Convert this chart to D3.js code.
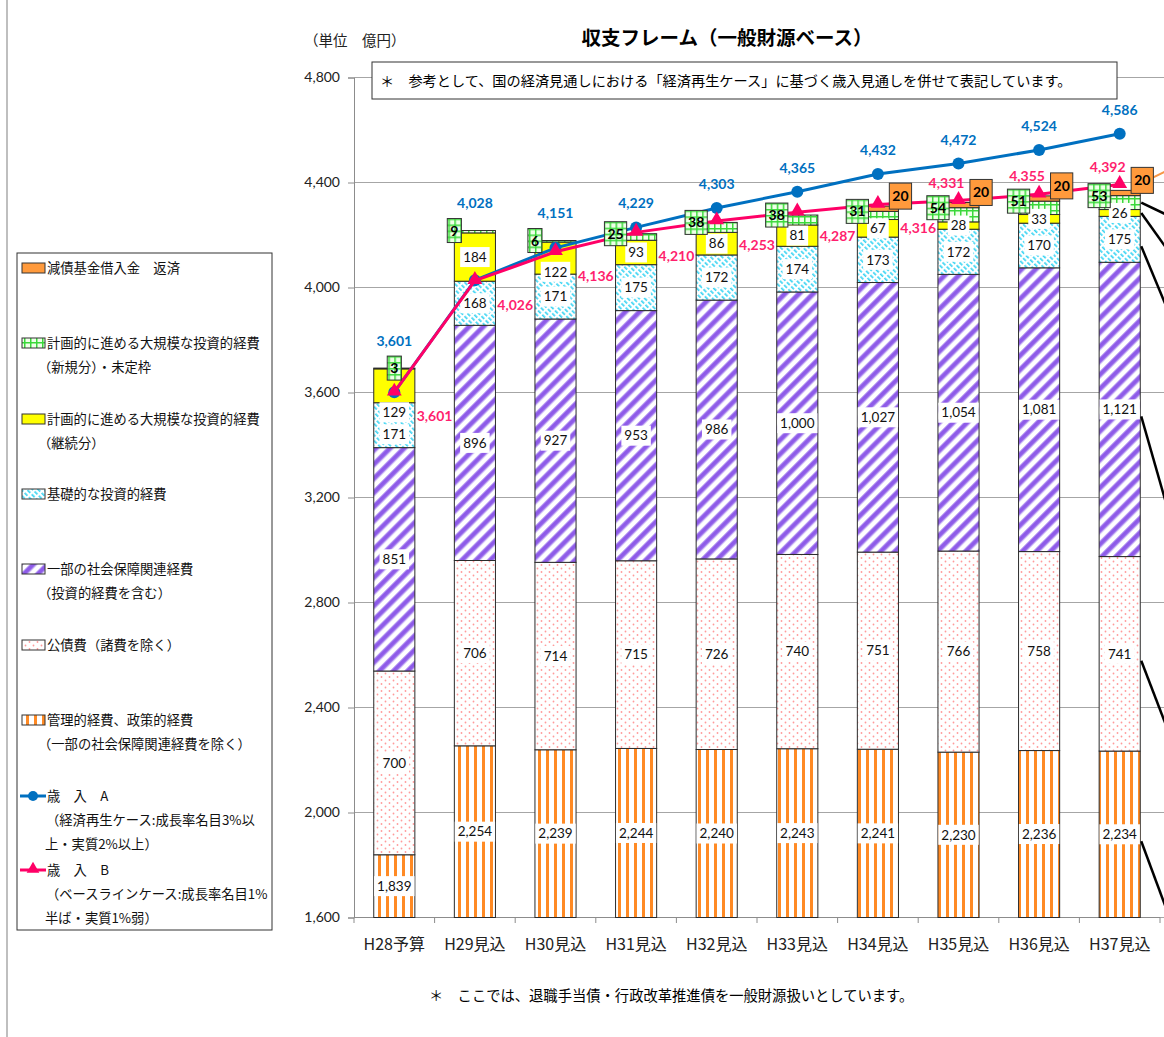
<!DOCTYPE html>
<html><head><meta charset="utf-8">
<script src="https://cdn.jsdelivr.net/npm/d3@7"></script>
<style>body{margin:0;background:#fff;} svg{display:block;}</style>
</head><body>
<svg id="c" width="1164" height="1037"></svg>
<script>
// ---- data ----
const categories = ["H28予算","H29見込","H30見込","H31見込","H32見込","H33見込","H34見込","H35見込","H36見込","H37見込"];
const kanri   = [1839,2254,2239,2244,2240,2243,2241,2230,2236,2234]; // 管理的経費、政策的経費
const kosai   = [700,706,714,715,726,740,751,766,758,741];             // 公債費
const shakai  = [851,896,927,953,986,1000,1027,1054,1081,1121];        // 一部の社会保障関連経費
const kiso    = [171,168,171,175,172,174,173,172,170,175];             // 基礎的な投資的経費
const keizoku = [129,184,122,93,86,81,67,28,33,26];                    // 計画的(継続分)
const shinki  = [3,9,6,25,38,38,31,54,51,53];                          // 計画的(新規分)・未定枠
const gensai  = [0,0,0,0,0,0,20,20,20,20];                             // 減債基金借入金 返済
const revenueA = [3601,4028,4151,4229,4303,4365,4432,4472,4524,4586];
const revenueB = [3601,4026,4136,4210,4253,4287,4316,4331,4355,4392];
const yTicks = [1600,2000,2400,2800,3200,3600,4000,4400,4800];

const seriesKeys = ["kanri","kosai","shakai","kiso","keizoku","shinki","gensai"];
const seriesData = {kanri, kosai, shakai, kiso, keizoku, shinki, gensai};

const svg = d3.select("#c");
const fmt = d3.format(",");
const JP = "'Noto Sans CJK JP','Noto Sans',sans-serif";
const NUM = "Lato,'Liberation Sans',sans-serif";

// ---- patterns ----
const defs = svg.append("defs");
function pat(id, w, h, tr){ const p = defs.append("pattern").attr("id",id).attr("patternUnits","userSpaceOnUse").attr("width",w).attr("height",h); if(tr) p.attr("patternTransform",tr); p.append("rect").attr("width",w).attr("height",h).attr("fill","#fff"); return p; }
let p = pat("pKanri",8,8);
p.append("rect").attr("x",2).attr("width",3).attr("height",8).attr("fill","#FF8A24");
p = pat("pKosai",8,7);
p.append("circle").attr("cx",1.5).attr("cy",1.5).attr("r",0.9).attr("fill","#FF9B9B");
p.append("circle").attr("cx",5.5).attr("cy",5).attr("r",0.9).attr("fill","#FF9B9B");
p = pat("pShakai",10,10,"rotate(45)");
p.append("rect").attr("x",0).attr("width",5.5).attr("height",10).attr("fill","#B293F2");
p.append("rect").attr("x",1).attr("width",3.5).attr("height",10).attr("fill","#8E5BE8");
p = pat("pKiso",4,6,"rotate(-45)");
p.append("rect").attr("x",0).attr("y",0).attr("width",1.7).attr("height",4).attr("fill","#3DD5F3");
p = defs.append("pattern").attr("id","pShinki").attr("patternUnits","userSpaceOnUse").attr("width",6).attr("height",6);
p.append("rect").attr("width",6).attr("height",6).attr("fill","#EFFFE8");
p.append("rect").attr("width",1.5).attr("height",6).attr("fill","#3AD83A");
p.append("rect").attr("width",6).attr("height",1.5).attr("fill","#3AD83A");

const fills = {kanri:"url(#pKanri)", kosai:"url(#pKosai)", shakai:"url(#pShakai)", kiso:"url(#pKiso)", keizoku:"#FFFF00", shinki:"url(#pShinki)", gensai:"#FF9A3C"};

// ---- scales ----
const x = d3.scaleBand().domain(categories).range([354,1160]).paddingInner(0.49).paddingOuter(0.245);
const y = d3.scaleLinear().domain([1600,4800]).range([917.5,77.5]);
const yMin = y.domain()[0];
const yc = v => y(Math.max(v, yMin));
const bw = x.bandwidth();
const cx = c => x(c) + bw/2;

// left page border
svg.append("line").attr("x1",7).attr("x2",7).attr("y1",0).attr("y2",1037).attr("stroke","#aaa").attr("stroke-width",1.5);

// gridlines
svg.append("g").selectAll("line").data(yTicks).join("line")
  .attr("x1",354).attr("x2",1164).attr("y1",d=>y(d)).attr("y2",d=>y(d))
  .attr("stroke","#A6A6A6").attr("stroke-width",1);

// y axis
const ya = svg.append("g").attr("transform","translate(354,0)")
  .call(d3.axisLeft(y).tickValues(yTicks).tickSize(6).tickPadding(8).tickFormat(fmt));
ya.select(".domain").attr("stroke","#8c8c8c");
ya.selectAll(".tick line").attr("stroke","#8c8c8c");
ya.selectAll("text").attr("font-family",NUM).attr("font-size",14).attr("fill","#222");

// x axis
const xa = svg.append("g").attr("transform","translate(0,917.5)")
  .call(d3.axisBottom(x).tickSize(0).tickPadding(21));
xa.select(".domain").remove();
xa.selectAll("text").attr("font-family",JP).attr("font-size",16).attr("fill","#222");
svg.append("line").attr("x1",354).attr("x2",1160).attr("y1",917.5).attr("y2",917.5).attr("stroke","#8c8c8c");
const bounds = categories.map(c => x(c) - (x.step()-bw)/2).concat([x(categories[9]) + bw + (x.step()-bw)/2]);
svg.append("g").selectAll("line").data(bounds).join("line")
  .attr("x1",d=>d).attr("x2",d=>d).attr("y1",917.5).attr("y2",923).attr("stroke","#8c8c8c");

// ---- stacked bars ----
const rows = categories.map((c,i)=>{ const r={cat:c}; seriesKeys.forEach(k=>r[k]=seriesData[k][i]); return r; });
const stacked = d3.stack().keys(seriesKeys)(rows);
const barsG = svg.append("g");
stacked.forEach(layer=>{
  barsG.append("g").selectAll("rect").data(layer.filter(d=>d[1]>d[0])).join("rect")
    .attr("x",d=>x(d.data.cat)).attr("width",bw)
    .attr("y",d=>yc(d[1])).attr("height",d=>yc(d[0])-yc(d[1]))
    .attr("fill",fills[layer.key]).attr("stroke","#2b2b2b").attr("stroke-width",1);
});

// segment value labels (white boxes); pushed down when they would cover a line marker or a label above
const labG = svg.append("g");
const labelLayers = ["keizoku","kiso","shakai","kosai","kanri"];
categories.forEach((c,i)=>{
  let floor = -Infinity;
  const markerY = Math.max(y(revenueA[i]), y(revenueB[i]));
  labelLayers.forEach(key=>{
    const d = stacked.find(l=>l.key===key)[i];
    let ly = (yc(d[0])+yc(d[1]))/2;
    if (Math.abs(ly - markerY) < 16) ly = markerY + 20;
    if (ly < floor + 22) ly = floor + 22;
    floor = ly;
    const g = labG.append("g").attr("transform",`translate(${cx(c)},${ly})`);
    const t = g.append("text").attr("text-anchor","middle").attr("dy","0.35em")
      .attr("font-family",NUM).attr("font-size",13.5).attr("fill","#111").text(fmt(d[1]-d[0]));
    const w = t.node().getComputedTextLength();
    g.insert("rect","text").attr("x",-w/2-3).attr("y",-10).attr("width",w+6).attr("height",20).attr("fill","#fff");
  });
});

// leader lines on the right (callouts leaving the frame)
const slopes = {shinki:0.48, keizoku:1.4, kiso:2.4, shakai:3.5, kosai:2.6, kanri:2.7};
const leadG = svg.append("g");
stacked.filter(l=>slopes[l.key]!==undefined).forEach(l=>{
  const d = l[l.length-1];
  const x0 = x(categories[9]) + bw + 1;
  const y0 = (yc(d[0])+yc(d[1]))/2 + (l.key==="shinki"||l.key==="keizoku"?0:7);
  leadG.append("line").attr("x1",x0).attr("y1",y0).attr("x2",x0+60).attr("y2",y0+60*slopes[l.key])
    .attr("stroke","#000").attr("stroke-width",2.5);
});
// orange reference line leaving the frame at top right
svg.append("line").attr("x1",x(categories[9])+bw+12).attr("y1",y(4418)).attr("x2",x(categories[9])+bw+40).attr("y2",y(4470))
  .attr("stroke","#F79646").attr("stroke-width",2);

// ---- lines ----
const lineA = d3.line().x((d,i)=>cx(categories[i])).y(d=>y(d));
svg.append("path").attr("d",lineA(revenueA)).attr("fill","none").attr("stroke","#0070C0").attr("stroke-width",3);
svg.append("g").selectAll("circle").data(revenueA).join("circle")
  .attr("cx",(d,i)=>cx(categories[i])).attr("cy",d=>y(d)).attr("r",6).attr("fill","#0070C0");
svg.append("path").attr("d",lineA(revenueB)).attr("fill","none").attr("stroke","#FF0066").attr("stroke-width",3);
svg.append("g").selectAll("path").data(revenueB).join("path")
  .attr("d",d3.symbol(d3.symbolTriangle,95))
  .attr("transform",(d,i)=>`translate(${cx(categories[i])},${y(d)-1})`).attr("fill","#FF0066");

// ---- green (新規分) boxes and orange (減債) boxes ----
const boxG = svg.append("g");
const shinkiLayer = stacked.find(l=>l.key==="shinki");
const greenTop = [];
shinkiLayer.forEach((d,i)=>{
  const bx = i===0 ? cx(d.data.cat) : x(d.data.cat);
  const by = y(d[1]);
  const g = boxG.append("g").attr("transform",`translate(${bx},${by})`);
  const t = g.append("text").attr("text-anchor","middle").attr("dy","0.36em")
    .attr("font-family",NUM).attr("font-weight","bold").attr("font-size",14).attr("fill","#000").text(fmt(d[1]-d[0]));
  const w = t.node().getComputedTextLength();
  g.insert("rect","text").attr("x",-w/2-3).attr("y",-12).attr("width",w+6).attr("height",24)
    .attr("fill","url(#pShinki)").attr("stroke","#333").attr("stroke-width",1);
  greenTop.push(by-12);
});
const gensaiLayer = stacked.find(l=>l.key==="gensai");
gensaiLayer.filter(d=>d[1]>d[0]).forEach(d=>{
  const g = boxG.append("g").attr("transform",`translate(${x(d.data.cat)+bw+2},${y(d[1])-10})`);
  const t = g.append("text").attr("text-anchor","middle").attr("dy","0.36em")
    .attr("font-family",NUM).attr("font-weight","bold").attr("font-size",14).attr("fill","#000").text(fmt(d[1]-d[0]));
  const w = t.node().getComputedTextLength();
  g.insert("rect","text").attr("x",-w/2-3).attr("y",-13).attr("width",w+6).attr("height",26)
    .attr("fill","#FF9A3C").attr("stroke","#333").attr("stroke-width",1);
});

// ---- line labels ----
svg.append("g").selectAll("text").data(revenueA).join("text")
  .attr("x",(d,i)=>cx(categories[i])).attr("y",(d,i)=>Math.min(y(d)-24, greenTop[i]-15))
  .attr("dy","0.35em").attr("text-anchor","middle")
  .attr("font-family",NUM).attr("font-weight","bold").attr("font-size",14).attr("fill","#0070C0").text(fmt);
svg.append("g").selectAll("text").data(revenueB).join("text")
  .attr("x",(d,i)=> i<7 ? cx(categories[i])+x.step()/2 : cx(categories[i])-12)
  .attr("y",(d,i)=> i<7 ? y(d)+24 : y(d)-18)
  .attr("dy","0.35em").attr("text-anchor","middle")
  .attr("font-family",NUM).attr("font-weight","bold").attr("font-size",14).attr("fill","#FF1F6E").text(fmt);

// ---- titles & notes ----
svg.append("text").attr("x",727).attr("y",38).attr("dy","0.35em").attr("text-anchor","middle")
  .attr("font-family",JP).attr("font-weight","bold").attr("font-size",19.5).attr("fill","#000").text("収支フレーム（一般財源ベース）");
svg.append("text").attr("x",304).attr("y",41).attr("dy","0.35em")
  .attr("font-family",JP).attr("font-size",14.5).attr("fill","#222").text("（単位　億円）");
svg.append("rect").attr("x",372).attr("y",62).attr("width",745).attr("height",37).attr("fill","#fff").attr("stroke","#333").attr("stroke-width",1);
svg.append("text").attr("x",380).attr("y",81).attr("dy","0.35em")
  .attr("font-family",JP).attr("font-size",14.2).attr("fill","#000")
  .text("＊　参考として、国の経済見通しにおける「経済再生ケース」に基づく歳入見通しを併せて表記しています。");
svg.append("text").attr("x",429).attr("y",996).attr("dy","0.35em")
  .attr("font-family",JP).attr("font-size",14.3).attr("fill","#000")
  .text("＊　ここでは、退職手当債・行政改革推進債を一般財源扱いとしています。");

// ---- legend ----
const leg = svg.append("g");
leg.append("rect").attr("x",17).attr("y",253).attr("width",255).attr("height",677).attr("fill","#fff").attr("stroke","#333").attr("stroke-width",1);
const legendItems = [
  {fill:fills.gensai, y:268, lines:["減債基金借入金　返済"]},
  {fill:fills.shinki, y:343, lines:["計画的に進める大規模な投資的経費","（新規分）・未定枠"]},
  {fill:fills.keizoku, y:419, lines:["計画的に進める大規模な投資的経費","（継続分）"]},
  {fill:fills.kiso, y:494, lines:["基礎的な投資的経費"]},
  {fill:fills.shakai, y:569, lines:["一部の社会保障関連経費","（投資的経費を含む）"]},
  {fill:fills.kosai, y:645, lines:["公債費（諸費を除く）"]},
  {fill:fills.kanri, y:720, lines:["管理的経費、政策的経費","（一部の社会保障関連経費を除く）"]},
  {line:"A", y:796, lines:["歳　入　A","（経済再生ケース:成長率名目3%以","上・実質2%以上）"]},
  {line:"B", y:870, lines:["歳　入　B","（ベースラインケース:成長率名目1%","半ば・実質1%弱）"]}
];
legendItems.forEach(it=>{
  if(it.fill){
    leg.append("rect").attr("x",22).attr("y",it.y-5).attr("width",23).attr("height",10)
      .attr("fill",it.fill).attr("stroke","#333").attr("stroke-width",1);
  } else if(it.line==="A"){
    leg.append("line").attr("x1",20).attr("x2",46).attr("y1",it.y).attr("y2",it.y).attr("stroke","#0070C0").attr("stroke-width",3);
    leg.append("circle").attr("cx",33).attr("cy",it.y).attr("r",5).attr("fill","#0070C0");
  } else {
    leg.append("line").attr("x1",20).attr("x2",46).attr("y1",it.y).attr("y2",it.y).attr("stroke","#FF0066").attr("stroke-width",3);
    leg.append("path").attr("d",d3.symbol(d3.symbolTriangle,70)).attr("transform",`translate(33,${it.y-1})`).attr("fill","#FF0066");
  }
  it.lines.forEach((s,k)=>{
    let tx = 47;
    if(k>0) tx = s.startsWith("（") ? (it.line ? 46 : 38) : 45;
    leg.append("text").attr("x",tx).attr("y",it.y + k*24).attr("dy","0.36em")
      .attr("font-family",JP).attr("font-size",13.3).attr("fill","#111").text(s);
  });
});
</script>
</body></html>
